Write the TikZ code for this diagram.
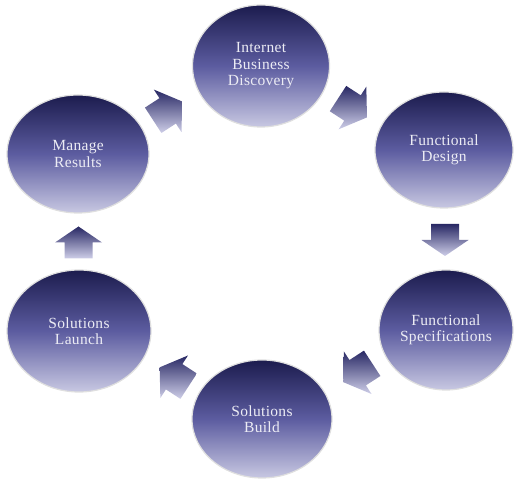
\documentclass[tikz,border=0pt]{standalone}
\usepackage{fontspec}
\newfontfamily\lblfont[LetterSpace=2]{Liberation Serif}
\usetikzlibrary{shapes.geometric,calc}
\definecolor{navytop}{RGB}{28,28,78}
\definecolor{navymid}{RGB}{92,92,160}
\definecolor{navybot}{RGB}{200,200,226}
\definecolor{arrtop}{RGB}{40,40,100}
\definecolor{arrbot}{RGB}{206,206,232}
\definecolor{lbltext}{RGB}{236,236,244}
\tikzset{
  phase/.style={ellipse, draw=gray!25, line width=1.2pt,
    top color=navytop, bottom color=navybot, middle color=navymid,
    inner sep=0pt, align=center, text=lbltext,
    font=\lblfont\fontsize{15.5}{16.5}\selectfont},
  barrow/.pic={
    \path[top color=arrtop, bottom color=arrbot]
      (-16,-14) -- (0,-14) -- (0,-23.5) -- (16,0) -- (0,23.5) -- (0,14) -- (-16,14) -- cycle;
  }
}
\begin{document}
\begin{tikzpicture}[x=1pt,y=1pt]
\useasboundingbox (0,0) rectangle (514,479);
\node[phase, minimum width=137pt, minimum height=122pt] (disc) at (261,413) {Internet\\Business\\Discovery};
\node[phase, minimum width=138pt, minimum height=116pt] (fd) at (444,329) {Functional\\Design};
\node[phase, minimum width=134pt, minimum height=120pt] (fs) at (446,149) {Functional\\Specifications};
\node[phase, minimum width=140pt, minimum height=118pt] (build) at (262,60) {Solutions\\Build};
\node[phase, minimum width=144pt, minimum height=122pt] (launch) at (79,148) {Solutions\\Launch};
\node[phase, minimum width=142pt, minimum height=118pt] (manage) at (78,325) {Manage\\Results};
\coordinate (m1) at ($(manage.center)!0.49!(disc.center)$);
\coordinate (m2) at ($(disc.center)!0.5!(fd.center)$);
\coordinate (m3) at ($(fd.center)!0.5!(fs.center)$);
\coordinate (m4) at ($(fs.center)!0.48!(build.center)$);
\coordinate (m5) at ($(build.center)!0.48!(launch.center)$);
\coordinate (m6) at ($(launch.center)!0.5!(manage.center)$);
\pic[rotate=33, scale=1.08] at (m1) {barrow};
\pic[rotate=-33, scale=1.08] at (m2) {barrow};
\pic[rotate=-90] at (m3) {barrow};
\pic[rotate=213, scale=1.08] at (m4) {barrow};
\pic[rotate=147, scale=1.08] at (m5) {barrow};
\pic[rotate=90] at (m6) {barrow};
\end{tikzpicture}
\end{document}
